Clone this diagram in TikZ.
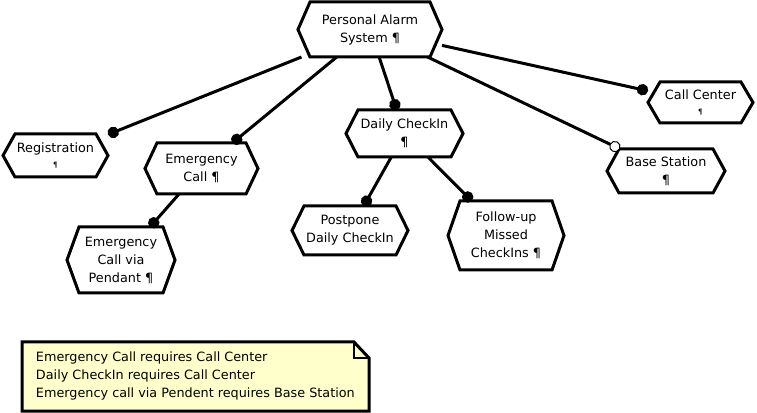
\documentclass[tikz,border=0pt]{standalone}
\usepackage{fontspec}
\setmainfont{DejaVu Sans}
\usetikzlibrary{arrows.meta}

\tikzset{every picture/.style={line width=0.75pt}}
\tikzset{
  feature/.style={rectangle, inner sep=0pt, outer sep=0pt, align=center, font=\fontsize{9.6}{13.5}\selectfont},
  mandatory/.style={line width=2.25pt, -{Circle[length=8.5pt]}},
  optional/.style={line width=2.25pt, -{Circle[open, fill=white, length=8.5pt, line width=0.75pt]}},
}
\newcommand{\smallpilcrow}{{\fontsize{5.5}{5.5}\selectfont ¶}}

\begin{document}
\begin{tikzpicture}[x=0.75pt,y=0.75pt,yscale=-1,xscale=1]
		\useasboundingbox (0,0) rectangle (757,413);
		
		%Features
		\node [feature, minimum width=108pt, minimum height=41.25pt] (root) at (370,29.5) {Personal Alarm\\System ¶};
		\node [feature, minimum width=78.75pt, minimum height=32.25pt] (reg) at (55.5,155.5) {Registration\\[-2pt]\smallpilcrow};
		\node [feature, minimum width=84.75pt, minimum height=38.25pt] (ecall) at (201.5,168.5) {Emergency\\Call ¶};
		\node [feature, minimum width=81pt, minimum height=49.5pt] (pend) at (121,260) {Emergency\\Call via\\Pendant ¶};
		\node [feature, minimum width=87.75pt, minimum height=35.25pt] (daily) at (404.5,133.5) {Daily CheckIn\\¶};
		\node [feature, minimum width=87pt, minimum height=36.75pt] (post) at (350,230.5) {Postpone\\Daily CheckIn};
		\node [feature, minimum width=87pt, minimum height=51.75pt] (follow) at (506,235.5) {Follow-up\\Missed\\CheckIns ¶};
		\node [feature, minimum width=78.75pt, minimum height=30.75pt] (callc) at (700.5,102.5) {Call Center\\[-2pt]\smallpilcrow};
		\node [feature, minimum width=88.5pt, minimum height=33pt] (base) at (666,171) {Base Station\\¶};
		
		%Hexagon outlines
		\foreach \n in {root,reg,ecall,pend,daily,post,follow,callc,base}
		  \draw [line width=2.25pt] (\n.west) -- ([xshift=9pt]\n.north west) -- ([xshift=-9pt]\n.north east) -- (\n.east) -- ([xshift=-9pt]\n.south east) -- ([xshift=9pt]\n.south west) -- cycle ;
		
		%Connectors
		\draw [mandatory] (root) -- (reg) ;
		\draw [mandatory] (root) -- (ecall) ;
		\draw [mandatory] (root) -- (daily) ;
		\draw [mandatory] (root) -- (callc) ;
		\draw [optional] (root) -- (base) ;
		\draw [mandatory] (ecall) -- (pend) ;
		\draw [mandatory] (daily) -- (post) ;
		\draw [mandatory] (daily) -- (follow) ;
		
		%Note
		\draw [line width=2.25pt, fill={rgb, 255:red, 255; green, 255; blue, 204 }] (22,342) -- (354,342) -- (369,358) -- (369,411) -- (22,411) -- cycle ;
		\draw [line width=1.5pt] (354,342) -- (354,358) -- (369,358) ;
		\node [anchor=west, align=left, inner sep=0.75pt, font=\fontsize{9.6}{13.5}\selectfont] (note) at (34.5,376) {Emergency Call requires Call Center\\Daily CheckIn requires Call Center\\Emergency call via Pendent requires Base Station};
		
	\end{tikzpicture}
\end{document}
